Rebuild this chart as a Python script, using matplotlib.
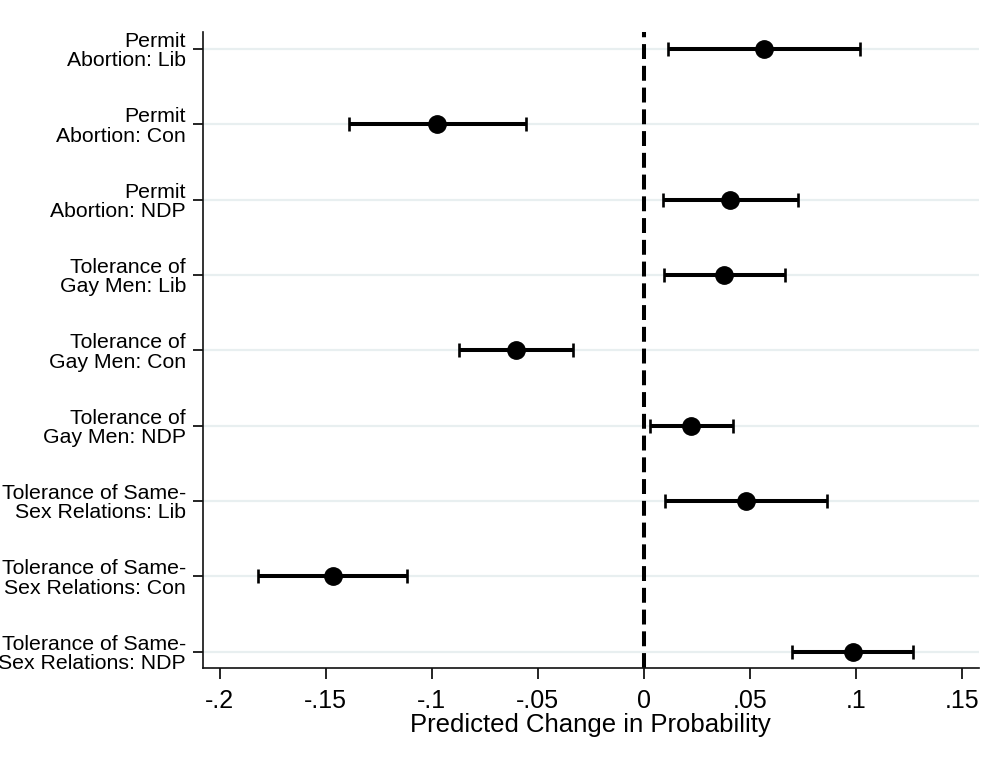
import numpy as np
import matplotlib
matplotlib.use("Agg")
from matplotlib import pyplot as plt

plt.rcParams['font.family'] = ['Liberation Sans', 'DejaVu Sans']

# Coefficients and 95% CIs, top to bottom
labels = [
    "Permit\nAbortion: Lib",
    "Permit\nAbortion: Con",
    "Permit\nAbortion: NDP",
    "Tolerance of\nGay Men: Lib",
    "Tolerance of\nGay Men: Con",
    "Tolerance of\nGay Men: NDP",
    "Tolerance of Same-\nSex Relations: Lib",
    "Tolerance of Same-\nSex Relations: Con",
    "Tolerance of Same-\nSex Relations: NDP",
]
estimates = [0.0568, -0.0974, 0.0408, 0.0380, -0.0603, 0.0224, 0.0482, -0.1467, 0.0985]
ci_low = [0.0116, -0.1391, 0.0089, 0.0097, -0.0870, 0.0028, 0.0101, -0.1818, 0.0700]
ci_high = [0.1021, -0.0556, 0.0726, 0.0666, -0.0334, 0.0421, 0.0864, -0.1117, 0.1268]
xticks = [-0.2, -0.15, -0.1, -0.05, 0, 0.05, 0.1, 0.15]
xtick_labels = ["-.2", "-.15", "-.1", "-.05", "0", ".05", ".1", ".15"]

est = np.array(estimates)
err = np.vstack([est - np.array(ci_low), np.array(ci_high) - est])
ypos = np.arange(1, len(labels) + 1)

fig = plt.figure(figsize=(10.05, 7.7), dpi=100)
ax = fig.add_axes([0.2017, 0.1321, 0.7724, 0.8259])

# light horizontal gridlines at each coefficient
for y in ypos:
    ax.axhline(y, color='#e8eff0', lw=1.6, zorder=0)

ax.axvline(0, color='black', lw=2.9, dashes=(3.7, 1.7), zorder=1)

ax.errorbar(est, ypos, xerr=err, fmt='o', color='black', ms=12.5,
            elinewidth=2.9, capsize=5.3, capthick=1.9, zorder=3)

ax.set_xlim(-0.2081, 0.1581)
ax.set_ylim(9.22, 0.78)
ax.set_yticks(ypos)
ax.set_yticklabels(labels, fontsize=15.3, linespacing=1.03)
ax.set_xticks(xticks)
ax.set_xticklabels(xtick_labels, fontsize=18)
ax.set_xlabel("Predicted Change in Probability", fontsize=18.5, labelpad=0)

ax.spines['top'].set_visible(False)
ax.spines['right'].set_visible(False)
for s in ['left', 'bottom']:
    ax.spines[s].set_linewidth(1.2)
    ax.spines[s].set_color('#111111')
ax.tick_params(axis='y', length=7, width=1.2, pad=5)
ax.tick_params(axis='x', length=8, width=1.2, pad=7)

fig.savefig("out.png", dpi=100)
